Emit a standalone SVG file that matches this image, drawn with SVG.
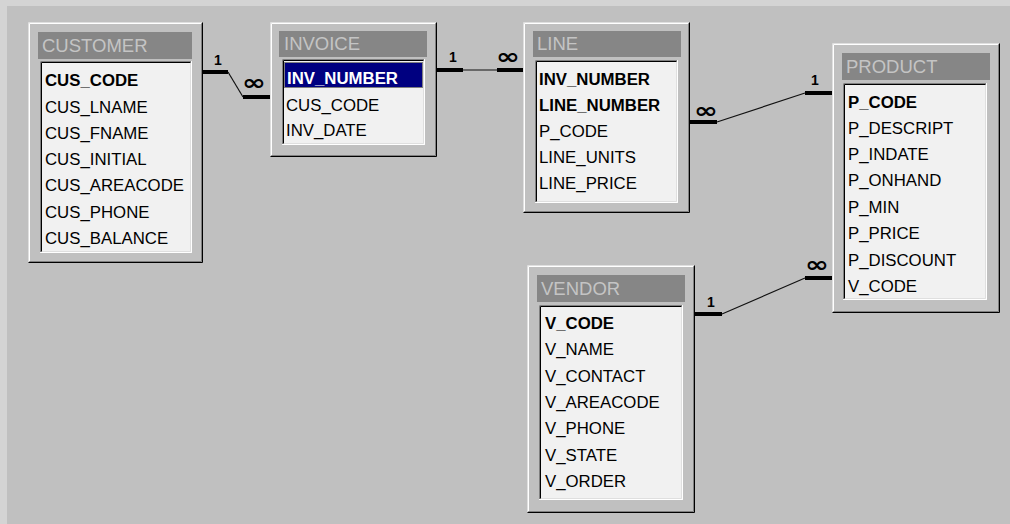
<svg xmlns="http://www.w3.org/2000/svg" width="1010" height="524" viewBox="0 0 1010 524">
<style>
.frame{fill:#c0c0c0}
.hl1{fill:none;stroke:#dfdfdf;stroke-width:1}
.hl2{fill:none;stroke:#ffffff;stroke-width:1}
.sh1{fill:none;stroke:#000000;stroke-width:1}
.sh2{fill:none;stroke:#808080;stroke-width:1}
.title{fill:#868686}
.ttext{font-family:"Liberation Sans",Arial,sans-serif;font-size:18.5px;fill:#c4c4c4}
.list{fill:#f1f1f1}
.ld1{fill:none;stroke:#808080;stroke-width:1}
.ld2{fill:none;stroke:#000000;stroke-width:1}
.ll1{fill:none;stroke:#ffffff;stroke-width:1}
.ll2{fill:none;stroke:#dfdfdf;stroke-width:1}
.f{font-family:"Liberation Sans",Arial,sans-serif;font-size:16.8px;fill:#000}
.k{font-weight:bold}
.sel{fill:#000080}
.focus{fill:none;stroke:#ffff80;stroke-width:1;stroke-dasharray:1 1}
.thick{stroke:#000;stroke-width:4;fill:none}
.thin{stroke:#111;stroke-width:1.2;fill:none}
.one{font-family:"Liberation Sans",Arial,sans-serif;font-size:14px;font-weight:bold;fill:#000;text-anchor:middle}
.many{font-family:"DejaVu Sans",sans-serif;font-size:22px;font-weight:bold;fill:#000;text-anchor:middle}
</style>
<rect x="0" y="0" width="1010" height="524" fill="#c0c0c0"/>
<rect x="0" y="0" width="1010" height="6" fill="#d4d4d4"/>
<rect x="0" y="0" width="7" height="524" fill="#d4d4d4"/>

<g id="customer">
<rect class="frame" x="28" y="22" width="175" height="241"/>
<path class="hl1" d="M28.5,262 V22.5 H202"/>
<path class="hl2" d="M29.5,261 V23.5 H201"/>
<path class="sh1" d="M28.5,262.5 H202.5 V22.5"/>
<path class="sh2" d="M29.5,261.5 H201.5 V23.5"/>
<rect class="title" x="38" y="32" width="154" height="27"/>
<text class="ttext" x="42" y="52">CUSTOMER</text>
<rect class="list" x="40" y="61" width="152" height="192"/>
<path class="ld1" d="M40.5,252 V61.5 H191"/>
<path class="ld2" d="M41.5,252 V62.5 H191"/>
<path class="ll1" d="M40.5,252.5 H191.5 V61.5"/>
<path class="ll2" d="M41.5,251.5 H190.5 V62.5"/>
<text class="f k" x="45" y="86">CUS_CODE</text>
<text class="f" x="45" y="113">CUS_LNAME</text>
<text class="f" x="45" y="139">CUS_FNAME</text>
<text class="f" x="45" y="165">CUS_INITIAL</text>
<text class="f" x="45" y="191">CUS_AREACODE</text>
<text class="f" x="45" y="218">CUS_PHONE</text>
<text class="f" x="45" y="244">CUS_BALANCE</text>
</g>

<g id="invoice">
<rect class="frame" x="270" y="22" width="167" height="135"/>
<path class="hl1" d="M270.5,156 V22.5 H436"/>
<path class="hl2" d="M271.5,155 V23.5 H435"/>
<path class="sh1" d="M270.5,156.5 H436.5 V22.5"/>
<path class="sh2" d="M271.5,155.5 H435.5 V23.5"/>
<rect class="title" x="279" y="31" width="148" height="26"/>
<text class="ttext" x="284" y="50">INVOICE</text>
<rect class="list" x="282" y="59" width="143" height="86"/>
<path class="ld1" d="M282.5,144 V59.5 H424"/>
<path class="ld2" d="M283.5,144 V60.5 H424"/>
<path class="ll1" d="M282.5,144.5 H424.5 V59.5"/>
<path class="ll2" d="M283.5,143.5 H423.5 V60.5"/>
<rect class="sel" x="284" y="62" width="139" height="26"/>
<rect class="focus" x="284.5" y="62.5" width="138" height="25"/>
<text class="f k" x="287" y="84" style="fill:#fff">INV_NUMBER</text>
<text class="f" x="286" y="111">CUS_CODE</text>
<text class="f" x="286" y="136">INV_DATE</text>
</g>

<g id="line">
<rect class="frame" x="523" y="22" width="167" height="191"/>
<path class="hl1" d="M523.5,212 V22.5 H689"/>
<path class="hl2" d="M524.5,211 V23.5 H688"/>
<path class="sh1" d="M523.5,212.5 H689.5 V22.5"/>
<path class="sh2" d="M524.5,211.5 H688.5 V23.5"/>
<rect class="title" x="533" y="31" width="148" height="26"/>
<text class="ttext" x="537" y="50">LINE</text>
<rect class="list" x="535" y="60" width="143" height="143"/>
<path class="ld1" d="M535.5,202 V60.5 H677"/>
<path class="ld2" d="M536.5,202 V61.5 H677"/>
<path class="ll1" d="M535.5,202.5 H677.5 V60.5"/>
<path class="ll2" d="M536.5,201.5 H676.5 V61.5"/>
<text class="f k" x="539" y="85">INV_NUMBER</text>
<text class="f k" x="539" y="111">LINE_NUMBER</text>
<text class="f" x="539" y="137">P_CODE</text>
<text class="f" x="539" y="163">LINE_UNITS</text>
<text class="f" x="539" y="189">LINE_PRICE</text>
</g>

<g id="product">
<rect class="frame" x="832" y="43" width="168" height="270"/>
<path class="hl1" d="M832.5,312 V43.5 H999"/>
<path class="hl2" d="M833.5,311 V44.5 H998"/>
<path class="sh1" d="M832.5,312.5 H999.5 V43.5"/>
<path class="sh2" d="M833.5,311.5 H998.5 V44.5"/>
<rect class="title" x="842" y="53" width="148" height="27"/>
<text class="ttext" x="846" y="73">PRODUCT</text>
<rect class="list" x="843" y="83" width="144" height="217"/>
<path class="ld1" d="M843.5,299 V83.5 H986"/>
<path class="ld2" d="M844.5,299 V84.5 H986"/>
<path class="ll1" d="M843.5,299.5 H986.5 V83.5"/>
<path class="ll2" d="M844.5,298.5 H985.5 V84.5"/>
<text class="f k" x="848" y="108">P_CODE</text>
<text class="f" x="848" y="134">P_DESCRIPT</text>
<text class="f" x="848" y="160">P_INDATE</text>
<text class="f" x="848" y="186">P_ONHAND</text>
<text class="f" x="848" y="213">P_MIN</text>
<text class="f" x="848" y="239">P_PRICE</text>
<text class="f" x="848" y="266">P_DISCOUNT</text>
<text class="f" x="848" y="292">V_CODE</text>
</g>

<g id="vendor">
<rect class="frame" x="527" y="265" width="168" height="248"/>
<path class="hl1" d="M527.5,512 V265.5 H694"/>
<path class="hl2" d="M528.5,511 V266.5 H693"/>
<path class="sh1" d="M527.5,512.5 H694.5 V265.5"/>
<path class="sh2" d="M528.5,511.5 H693.5 V266.5"/>
<rect class="title" x="537" y="275" width="148" height="27"/>
<text class="ttext" x="541" y="295">VENDOR</text>
<rect class="list" x="539" y="305" width="144" height="195"/>
<path class="ld1" d="M539.5,499 V305.5 H682"/>
<path class="ld2" d="M540.5,499 V306.5 H682"/>
<path class="ll1" d="M539.5,499.5 H682.5 V305.5"/>
<path class="ll2" d="M540.5,498.5 H681.5 V306.5"/>
<text class="f k" x="545" y="329">V_CODE</text>
<text class="f" x="545" y="355">V_NAME</text>
<text class="f" x="545" y="382">V_CONTACT</text>
<text class="f" x="545" y="408">V_AREACODE</text>
<text class="f" x="545" y="434">V_PHONE</text>
<text class="f" x="545" y="461">V_STATE</text>
<text class="f" x="545" y="487">V_ORDER</text>
</g>

<g id="connectors">
<path class="thick" d="M203,72 H228"/>
<path class="thin" d="M228,72 L243,97"/>
<path class="thick" d="M243,97 H270"/>
<text class="one" x="218" y="65">1</text>
<text class="many" transform="translate(254,90) scale(1.3,1)">∞</text>

<path class="thick" d="M437,70 H463"/>
<path class="thin" d="M463,70 H497"/>
<path class="thick" d="M497,70 H523"/>
<text class="one" x="453" y="62">1</text>
<text class="many" transform="translate(508,64) scale(1.3,1)">∞</text>

<path class="thick" d="M690,122 H717"/>
<path class="thin" d="M717,122 L805,93"/>
<path class="thick" d="M805,93 H832"/>
<text class="many" transform="translate(706,118) scale(1.3,1)">∞</text>
<text class="one" x="815" y="85">1</text>

<path class="thick" d="M695,314 H722"/>
<path class="thin" d="M722,314 L805,278"/>
<path class="thick" d="M805,278 H832"/>
<text class="one" x="711" y="307">1</text>
<text class="many" transform="translate(817,272) scale(1.3,1)">∞</text>
</g>
</svg>
